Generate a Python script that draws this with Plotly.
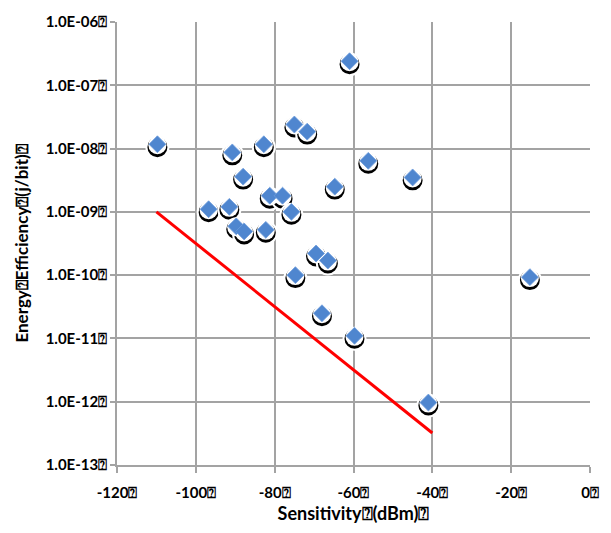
import plotly.graph_objects as go
import numpy as np

# Data
sensitivity_dbm = [-61, -75, -71.75, -109.75, -82.75, -90.75, -56.25, -88, -64.75, -45,
                   -81.25, -78, -75.75, -96.75, -91.5, -89.75, -87.75, -82.25, -69.5, -66.5,
                   -74.75, -15.25, -68, -59.75, -41]
energy_j_per_bit = [2.4e-7, 2.4e-8, 1.85e-8, 1.17e-8, 1.17e-8, 8.7e-9, 6.4e-9, 3.6e-9, 2.5e-9, 3.5e-9,
                    1.8e-9, 1.8e-9, 1.0e-9, 1.1e-9, 1.2e-9, 5.9e-10, 4.9e-10, 5.2e-10, 2.2e-10, 1.7e-10,
                    1.0e-10, 9.3e-11, 2.5e-11, 1.1e-11, 9.7e-13]
bound_x = [-110, -40]
bound_y = [1e-9, 3.2e-13]

x_ticks = [-120, -100, -80, -60, -40, -20, 0]
x_ticktext = ["-120⍰", "-100⍰", "-80⍰", "-60⍰", "-40⍰", "-20⍰", "0⍰"]
y_ticks = [1e-13, 1e-12, 1e-11, 1e-10, 1e-9, 1e-8, 1e-7, 1e-6]
y_ticktext = ["1.0E-13⍰", "1.0E-12⍰", "1.0E-11⍰", "1.0E-10⍰", "1.0E-09⍰",
              "1.0E-08⍰", "1.0E-07⍰", "1.0E-06⍰"]

FONT = "Lato"
GRID = "#a3a3a3"

# pixel offsets for the shadow layers (log axis: 7 decades over ~453 px)
dec_per_px = 7 / 453
ey = np.array(energy_j_per_bit)
shadow_y = ey * 10 ** (-3 * dec_per_px)
halo_y = ey * 10 ** (-1 * dec_per_px)

fig = go.Figure()
fig.add_trace(go.Scatter(x=bound_x, y=bound_y, mode="lines",
                         line=dict(color="#ff0000", width=3), hoverinfo="skip"))
fig.add_trace(go.Scatter(x=sensitivity_dbm, y=shadow_y, mode="markers",
                         marker=dict(symbol="circle", size=22, color="#000000",
                                     line=dict(color="#ffffff", width=2)),
                         hoverinfo="skip"))
fig.add_trace(go.Scatter(x=sensitivity_dbm, y=halo_y, mode="markers",
                         marker=dict(symbol="circle", size=18, color="#ffffff",
                                     line=dict(width=0)),
                         hoverinfo="skip"))
fig.add_trace(go.Scatter(x=sensitivity_dbm, y=energy_j_per_bit, mode="markers",
                         marker=dict(symbol="diamond", size=13, color="#4f86cf",
                                     line=dict(color="#6f9ddc", width=0.8))))

fig.update_layout(
    width=611, height=533,
    margin=dict(l=117, r=15, t=13, b=67),
    paper_bgcolor="white", plot_bgcolor="white",
    showlegend=False,
    font=dict(family=FONT, color="#000000"),
)
fig.update_xaxes(range=[-120, 0], tickvals=x_ticks, ticktext=x_ticktext,
                 tickfont=dict(family=FONT, size=15, color="#000000", weight="bold"),
                 showgrid=True, gridcolor=GRID, gridwidth=1.5,
                 showline=True, linecolor=GRID, linewidth=1.5,
                 ticks="outside", ticklen=6, tickcolor=GRID, tickwidth=1.5,
                 ticklabelstandoff=7,
                 zeroline=False,
                 title=dict(text="Sensitivity⍰(dBm)⍰",
                            font=dict(family=FONT, size=18, color="#000000", weight="bold"),
                            standoff=8))
fig.update_yaxes(type="log", range=[-13, -6], tickvals=y_ticks, ticktext=y_ticktext,
                 tickfont=dict(family=FONT, size=15, color="#000000", weight="bold"),
                 showgrid=True, gridcolor=GRID, gridwidth=1.5,
                 showline=True, linecolor=GRID, linewidth=1.5,
                 ticks="outside", ticklen=5, tickcolor=GRID, tickwidth=1.5,
                 zeroline=False,
                 title=dict(text="Energy⍰Efficiency⍰(j/bit)⍰",
                            font=dict(family=FONT, size=17, color="#000000", weight="bold"),
                            standoff=13))

fig.write_html("out.html")
